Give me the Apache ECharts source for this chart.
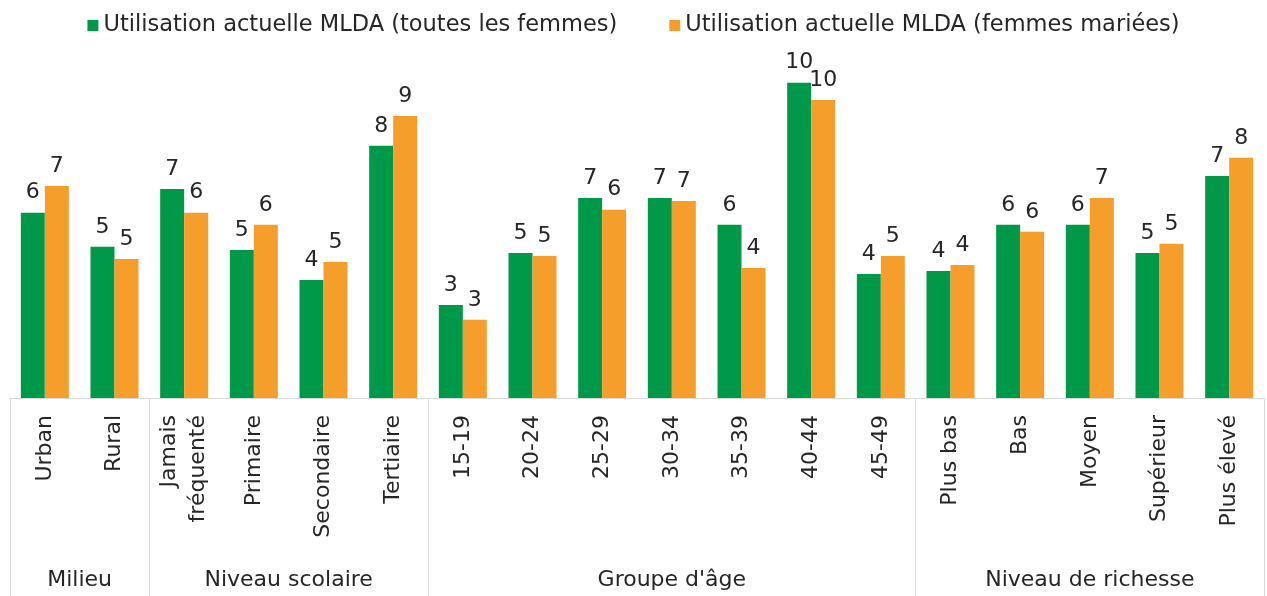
<!DOCTYPE html>
<html>
<head>
<meta charset="utf-8">
<script src="https://cdn.jsdelivr.net/npm/echarts@6/dist/echarts.min.js"></script>
<style>
  html, body { margin: 0; padding: 0; background: #fff; }
  #chart { width: 1267px; height: 596px; }
</style>
</head>
<body>
<div id="chart"></div>
<script>
// categories (bottom row) and the groups they belong to
const categories = ['Urban', 'Rural', 'Jamais\nfréquenté', 'Primaire', 'Secondaire', 'Tertiaire',
  '15-19', '20-24', '25-29', '30-34', '35-39', '40-44', '45-49',
  'Plus bas', 'Bas', 'Moyen', 'Supérieur', 'Plus élevé'];
const groupNames = ['Milieu', 'Niveau scolaire', "Groupe d'âge", 'Niveau de richesse'];
const groupSizes = [2, 4, 7, 5];

// values
const allWomen = [6.14, 5.01, 6.93, 4.91, 3.91, 8.36, 3.08, 4.81, 6.63, 6.63, 5.74, 10.45, 4.11,
  4.21, 5.74, 5.74, 4.81, 7.36];
const marriedWomen = [7.03, 4.61, 6.14, 5.74, 4.51, 9.35, 2.59, 4.71, 6.24, 6.53, 4.31, 9.88, 4.71,
  4.41, 5.51, 6.63, 5.11, 7.96];

const seriesNames = ['Utilisation actuelle MLDA (toutes les femmes)', 'Utilisation actuelle MLDA (femmes mariées)'];

// where each group starts and where its label sits
let boundaries = [];
let groupCenters = {};
let pos = 0;
groupSizes.forEach((n, i) => {
  boundaries.push(pos);
  groupCenters[pos + n / 2] = groupNames[i];
  pos += n;
});

const font = 'DejaVu Sans';
const textColor = '#262626';
const lineColor = '#d9d9d9';

let myChart = echarts.init(document.getElementById('chart'));

let option = {
  animation: false,
  textStyle: {fontFamily: font, color: textColor},
  legend: {
    top: 9,
    left: 'center',
    icon: 'rect',
    itemWidth: 11,
    itemHeight: 11,
    itemGap: 52,
    textStyle: {fontFamily: font, fontSize: 22.5, color: textColor}
  },
  grid: {left: 10, right: -1, top: 36, bottom: 198},
  xAxis: [
    {
      type: 'category',
      data: categories,
      axisLine: {lineStyle: {color: lineColor, width: 1}},
      axisTick: {
        show: true,
        alignWithLabel: false,
        length: 198,
        lineStyle: {color: lineColor, width: 1},
        interval: function (index) {
          return boundaries.indexOf(index) >= 0;
        }
      },
      axisLabel: {
        interval: 0,
        rotate: 90,
        margin: 17,
        fontFamily: font,
        fontSize: 22,
        color: textColor,
        lineHeight: 29
      }
    },
    {
      type: 'value',
      position: 'bottom',
      min: 0,
      max: 18,
      interval: 0.5,
      offset: 160,
      axisLine: {show: false},
      axisTick: {show: false},
      splitLine: {show: false},
      axisLabel: {
        margin: 11,
        fontFamily: font,
        fontSize: 22,
        color: textColor,
        formatter: function (v) {
          return groupCenters[v] || '';
        }
      }
    }
  ],
  yAxis: {
    type: 'value',
    min: 0,
    max: 12,
    show: false
  },
  series: [
    {
      name: seriesNames[0],
      type: 'bar',
      data: allWomen,
      barWidth: 24,
      barGap: '0%',
      itemStyle: {color: '#00994A'},
      label: {
        show: true,
        position: 'top',
        distance: 9,
        fontFamily: font,
        fontSize: 22,
        color: textColor,
        formatter: p => Math.round(p.value)
      }
    },
    {
      name: seriesNames[1],
      type: 'bar',
      data: marriedWomen,
      barWidth: 24,
      barGap: '0%',
      itemStyle: {color: '#F69E2B'},
      label: {
        show: true,
        position: 'top',
        distance: 9,
        fontFamily: font,
        fontSize: 22,
        color: textColor,
        formatter: p => Math.round(p.value)
      }
    }
  ]
};

myChart.setOption(option);
</script>
</body>
</html>
